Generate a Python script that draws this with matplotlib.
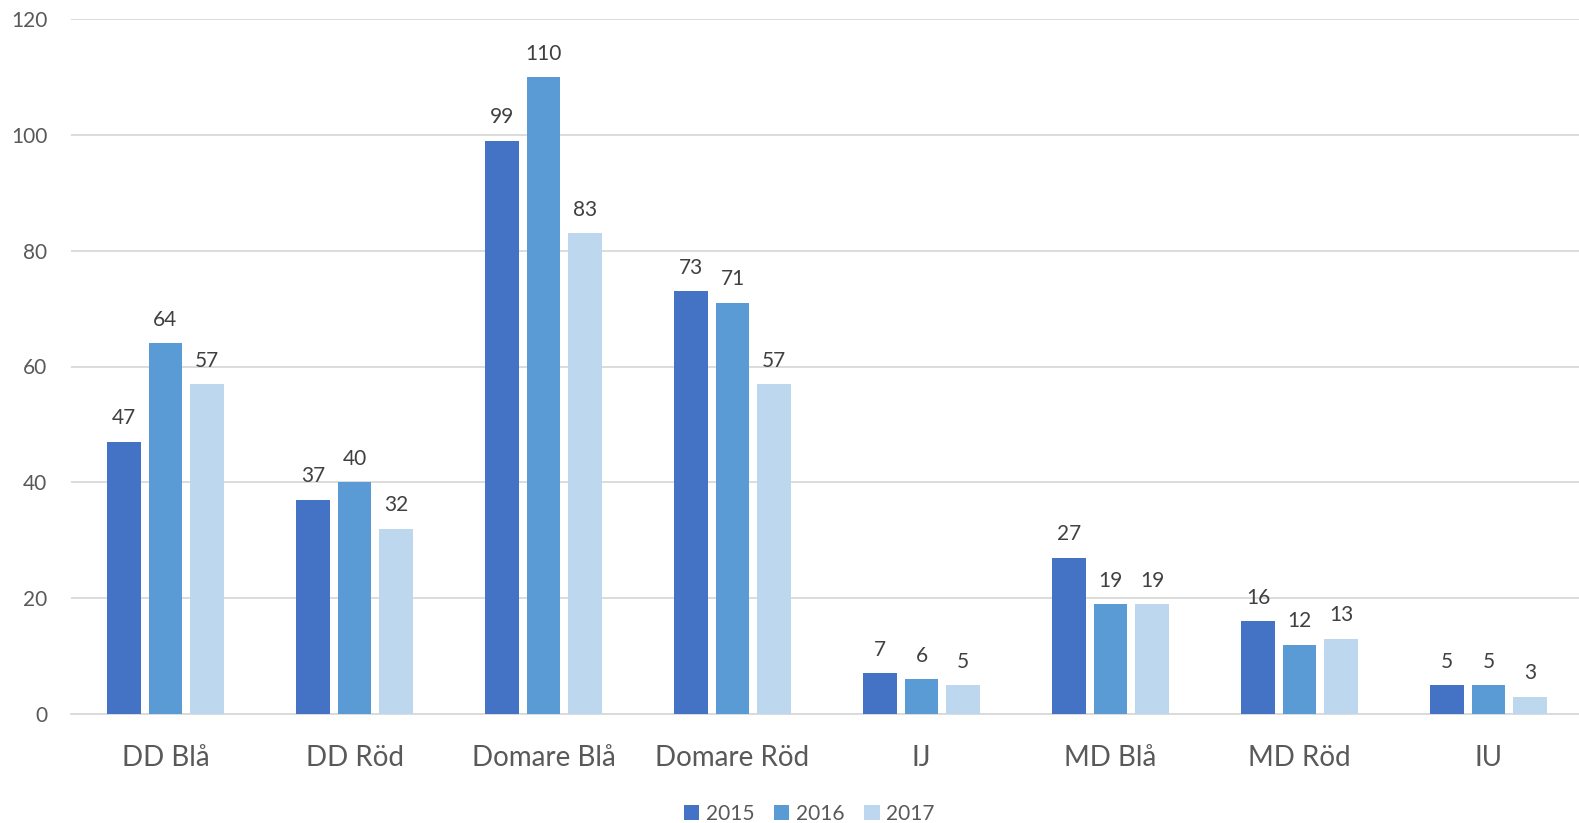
import matplotlib
matplotlib.use("Agg")
import matplotlib.pyplot as plt
import numpy as np

categories = ["DD Blå", "DD Röd", "Domare Blå", "Domare Röd", "IJ", "MD Blå", "MD Röd", "IU"]
years = ["2015", "2016", "2017"]
v2015 = [47, 37, 99, 73, 7, 27, 16, 5]
v2016 = [64, 40, 110, 71, 6, 19, 12, 5]
v2017 = [57, 32, 83, 57, 5, 19, 13, 3]
colors = ["#4472C4", "#5B9BD5", "#BDD7EE"]

plt.rcParams['font.family'] = ['Lato', 'DejaVu Sans']
txt = "#595959"

fig = plt.figure(figsize=(15.79, 8.23), dpi=100)
ax = fig.add_axes([71/1579, 109/823, 1512/1579, (714-19)/823])

x = np.arange(len(categories))
w = 0.176
step = 0.219
for i, (vals, c, yr) in enumerate(zip([v2015, v2016, v2017], colors, years)):
    pos = x + (i - 1) * step
    ax.bar(pos, vals, width=w, color=c, label=yr, zorder=3)
    for p, v in zip(pos, vals):
        ax.text(p, v + 2.3, str(v), ha='center', va='bottom', fontsize=15, color="#404040")

ax.set_xlim(-0.5, len(categories) - 0.5)
ax.set_ylim(0, 120)
ax.set_yticks(range(0, 121, 20))
ax.yaxis.grid(True, color="#D9D9D9", linewidth=1.3, zorder=0)
ax.set_axisbelow(True)
for s in ["top", "right", "left"]:
    ax.spines[s].set_visible(False)
ax.spines["bottom"].set_color("#D9D9D9")
ax.spines["bottom"].set_linewidth(1.3)
ax.tick_params(axis='y', length=0, labelsize=15, labelcolor=txt, pad=17)
ax.tick_params(axis='x', length=0, labelsize=20, labelcolor=txt, pad=22)
ax.set_xticks(x)
ax.set_xticklabels(categories)

leg = fig.legend(loc='center', bbox_to_anchor=(809/1579, 1 - 814/823), ncol=3, frameon=False,
                 fontsize=15, handlelength=0.75, handleheight=0.75, handletextpad=0.3, columnspacing=0.95)
for t in leg.get_texts():
    t.set_color(txt)

fig.savefig("out.png", dpi=100)
